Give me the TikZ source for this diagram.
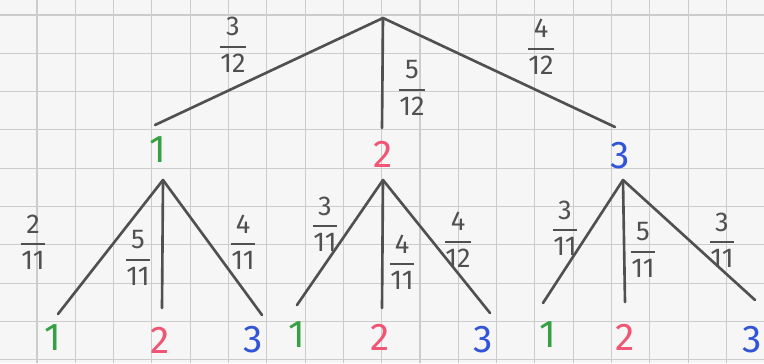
\documentclass[tikz,border=0pt]{standalone}
\usepackage{amsmath}
\usepackage{fontspec}
\setmainfont{Fira Sans}
\usepackage{tikz}
\usetikzlibrary{positioning}

\definecolor{paper}{RGB}{246,246,246}
\definecolor{pencil}{RGB}{80,80,80}
\definecolor{greenone}{RGB}{55,160,70}
\definecolor{pinktwo}{RGB}{240,85,115}
\definecolor{bluethree}{RGB}{50,85,215}
\newcommand{\prob}[2]{$\genfrac{}{}{1.2pt}{0}{\mbox{#1}}{\mbox{#2}}$}

\begin{document}
\begin{tikzpicture}[x=0.02cm, y=-0.02cm,
    gridline/.style={draw=black!20, line width=0.6pt},
    branch/.style={draw=pencil, line width=1.5pt, line cap=round},
    outcome/.style={inner sep=0pt, font=\fontsize{22}{22}\selectfont},
    prob/.style={inner sep=0pt, text=pencil, font=\fontsize{15.5}{16}\selectfont}
  ]
    \useasboundingbox (0,0) rectangle (764,363);
    \fill[paper] (0,0) rectangle (764,363);
    \clip (0,0) rectangle (764,363);
    % squared paper
    \foreach \k in {0,...,20} \draw[gridline] ({-1.3+38.3*\k},0) -- ({-1.3+38.3*\k},363);
    \foreach \k in {0,...,9} \draw[gridline] (0,{15+38.3*\k}) -- (764,{15+38.3*\k});

    % first draw
    \coordinate (root) at (383,18);
    \coordinate (e1) at (155,125);
    \coordinate (e2) at (382,128);
    \coordinate (e3) at (615,127);
    \node[outcome, text=greenone] (n1) at (158,150) {1};
    \node[outcome, text=pinktwo] (n2) at (383,154) {2};
    \node[outcome, text=bluethree] (n3) at (620,156) {3};
    \draw[branch] (root) -- (e1);
    \draw[branch] (root) -- (e2);
    \draw[branch] (root) -- (e3);
    \node[prob] (p1) at (233,45) {\prob{3}{12}};
    \node[prob] (p2) at (412,88) {\prob{5}{12}};
    \node[prob] (p3) at (541,47) {\prob{4}{12}};

    % second draw after 1
    \coordinate (t1) at (163,180);
    \coordinate (e11) at (58,314);
    \coordinate (e12) at (162,308);
    \coordinate (e13) at (262,315);
    \node[outcome, text=greenone] (n11) at (53,338) {1};
    \node[outcome, text=pinktwo] (n12) at (160,340) {2};
    \node[outcome, text=bluethree] (n13) at (253,340) {3};
    \draw[branch] (t1) -- (e11);
    \draw[branch] (t1) -- (e12);
    \draw[branch] (t1) -- (e13);
    \node[prob] (p11) at (33,242) {\prob{2}{11}};
    \node[prob] (p12) at (138,258) {\prob{5}{11}};
    \node[prob] (p13) at (243,242) {\prob{4}{11}};

    % second draw after 2
    \coordinate (t2) at (383,180);
    \coordinate (e21) at (297,305);
    \coordinate (e22) at (382,308);
    \coordinate (e23) at (490,313);
    \node[outcome, text=greenone] (n21) at (297,335) {1};
    \node[outcome, text=pinktwo] (n22) at (380,337) {2};
    \node[outcome, text=bluethree] (n23) at (483,340) {3};
    \draw[branch] (t2) -- (e21);
    \draw[branch] (t2) -- (e22);
    \draw[branch] (t2) -- (e23);
    \node[prob] (p21) at (325,224) {\prob{3}{11}};
    \node[prob] (p22) at (402,262) {\prob{4}{11}};
    \node[prob] (p23) at (458,240) {\prob{4}{12}};

    % second draw after 3
    \coordinate (t3) at (623,180);
    \coordinate (e31) at (543,303);
    \coordinate (e32) at (625,302);
    \coordinate (e33) at (755,300);
    \node[outcome, text=greenone] (n31) at (548,335) {1};
    \node[outcome, text=pinktwo] (n32) at (625,337) {2};
    \node[outcome, text=bluethree] (n33) at (752,340) {3};
    \draw[branch] (t3) -- (e31);
    \draw[branch] (t3) -- (e32);
    \draw[branch] (t3) -- (e33);
    \node[prob] (p31) at (565,228) {\prob{3}{11}};
    \node[prob] (p32) at (643,250) {\prob{5}{11}};
    \node[prob] (p33) at (722,240) {\prob{3}{11}};
\end{tikzpicture}
\end{document}
